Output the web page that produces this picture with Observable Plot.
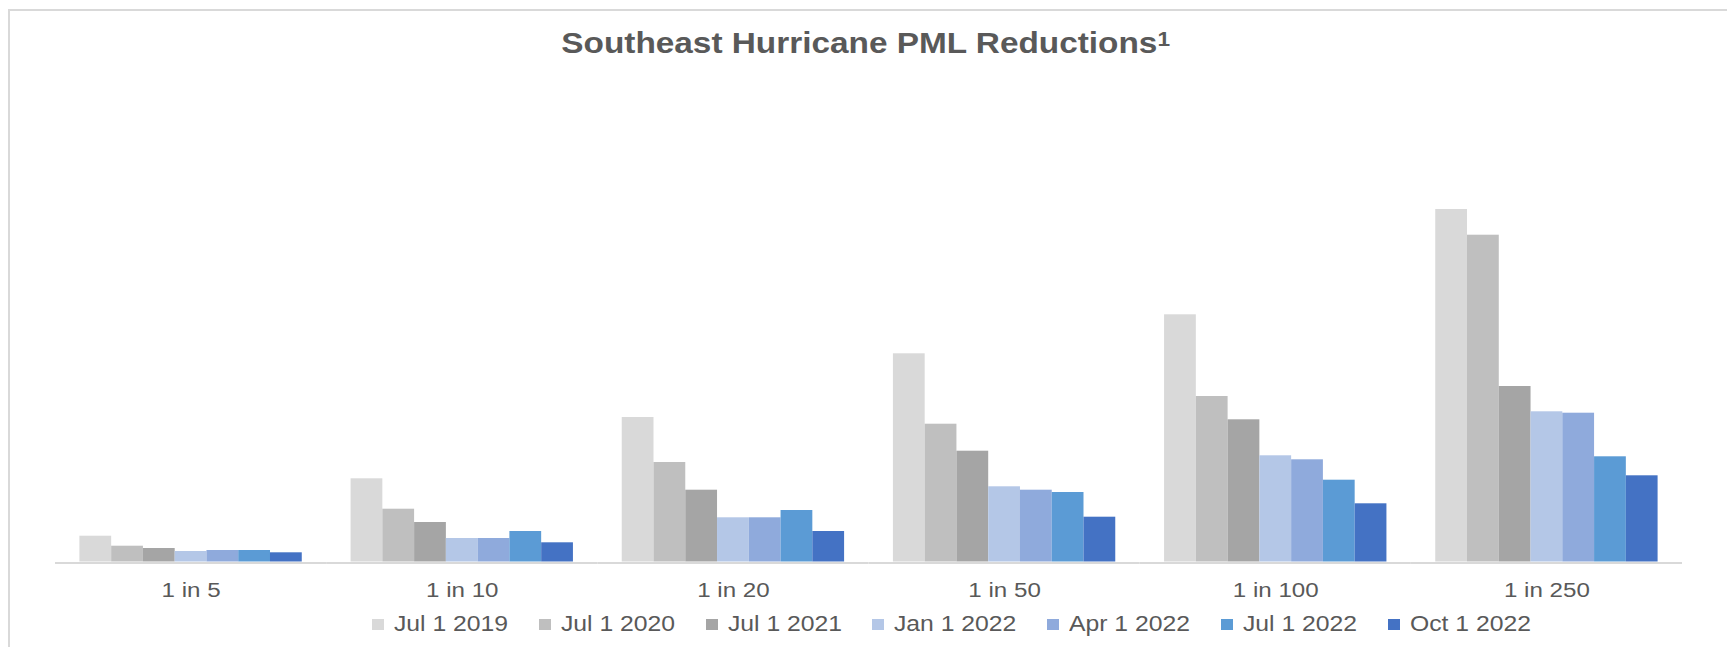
<!DOCTYPE html>
<html>
<head>
<meta charset="utf-8">
<script src="https://cdn.jsdelivr.net/npm/d3@7"></script>
<script src="https://cdn.jsdelivr.net/npm/@observablehq/plot@0.6"></script>
<style>
  html, body { margin: 0; padding: 0; background: #ffffff; overflow: hidden; }
  body { width: 1727px; height: 647px; position: relative;
         font-family: "Liberation Sans", Arial, sans-serif; color: #595959; }
  #frame {
    position: absolute; left: 7.5px; top: 9px; width: 1717.5px; height: 636px;
    border-left: 2px solid #d9d9d9; border-top: 2px solid #d9d9d9;
  }
  #title {
    position: absolute; left: 0; top: 29px; width: 1727px; padding-left: 5px;
    box-sizing: border-box; text-align: center;
    font-weight: bold; font-size: 29px; line-height: 29px; white-space: nowrap;
  }
  #title span { display: inline-block; transform: scaleX(1.15); transform-origin: 50% 50%; }
  #title sup { font-size: 0.68em; line-height: 0; vertical-align: 7px; }
  #chart { position: absolute; left: 0; top: 70px; width: 1727px; overflow: hidden; }
  #legend {
    position: absolute; left: 372px; top: 614px; display: flex; align-items: center;
    font-size: 21.5px; line-height: 21px; white-space: nowrap;
  }
  .item { display: flex; align-items: center; }
  .swatch { display: inline-block; width: 12px; height: 11px; margin-right: 10px; }
  .label { display: inline-block; transform: scaleX(1.15); transform-origin: 0 50%; }
</style>
</head>
<body>
<div id="frame"></div>
<div id="title"><span>Southeast Hurricane PML Reductions<sup>1</sup></span></div>
<div id="chart"></div>
<div id="legend"></div>
<script>
// Return periods along the category axis
const returnPeriods = ["1 in 5", "1 in 10", "1 in 20", "1 in 50", "1 in 100", "1 in 250"];
// As-of dates, one bar per date in each group
const seriesNames = ["Jul 1 2019", "Jul 1 2020", "Jul 1 2021", "Jan 1 2022", "Apr 1 2022", "Jul 1 2022", "Oct 1 2022"];
const seriesColors = ["#d9d9d9", "#bfbfbf", "#a5a5a5", "#b4c7e7", "#8faadc", "#5b9bd5", "#4472c4"];

// PML by return period for each as-of date
const jul2019 = [25.8, 83.2, 144.5, 208.2, 247.2, 352.5];
const jul2020 = [15.8, 52.8, 99.5, 137.8, 165.5, 326.8];
const jul2021 = [13.5, 39.5, 71.8, 110.8, 142.2, 175.5];
const jan2022 = [10.5, 23.5, 44.2, 75.2, 106.2, 150.2];
const apr2022 = [11.5, 23.5, 44.2, 71.8, 102.2, 148.8];
const jul2022 = [11.5, 30.5, 51.5, 69.5, 81.8, 105.2];
const oct2022 = [9.2, 19.2, 30.5, 44.8, 58.2, 86.2];

const seriesValues = [jul2019, jul2020, jul2021, jan2022, apr2022, jul2022, oct2022];

// Long-format table for the grouped bars
const rows = [];
seriesNames.forEach((series, i) => {
  returnPeriods.forEach((period, j) => {
    rows.push({period, series, value: seriesValues[i][j]});
  });
});

// Text is set in a slightly widened face
const textStretch = 1.15;

const W = 1727;
const marginLeft = 55;
const marginRight = 45;
const padInner = 0.18, padOuter = 0.09;
const step = (W - marginLeft - marginRight) / (returnPeriods.length - padInner + 2 * padOuter);
// The baseline rule in each group reaches halfway into the gaps, so it reads as one line
const ruleExtend = step * padInner / 2;

const chart = Plot.plot({
  width: W,
  height: 535,
  marginTop: 91.5,
  marginBottom: 43.5,
  marginLeft,
  marginRight,
  style: {
    fontFamily: "'Liberation Sans', Arial, sans-serif",
    fontSize: "21px",
    color: "#595959",
    background: "transparent"
  },
  fx: {
    domain: returnPeriods,
    paddingInner: padInner,
    paddingOuter: padOuter,
    round: false,
    axis: "bottom",
    tickSize: 0,
    tickPadding: 20,
    label: null
  },
  x: {domain: seriesNames, padding: 0, round: false, axis: null},
  y: {domain: [0, 400], axis: null},
  color: {domain: seriesNames, range: seriesColors},
  marks: [
    Plot.barY(rows, {fx: "period", x: "series", y: "value", fill: "series"}),
    Plot.ruleY([0], {stroke: "#d9d9d9", strokeWidth: 2, dy: 1, insetLeft: -ruleExtend, insetRight: -ruleExtend})
  ]
});
document.getElementById("chart").appendChild(chart);

// Widen the category labels about their anchor points
chart.querySelectorAll("text").forEach((t) => {
  const tr = t.getAttribute("transform") || "";
  t.setAttribute("transform", `${tr} scale(${textStretch},1)`.trim());
});

// Legend below the axis
const legend = document.getElementById("legend");
const labels = [];
seriesNames.forEach((name, i) => {
  const item = document.createElement("span");
  item.className = "item";
  const sw = document.createElement("span");
  sw.className = "swatch";
  sw.style.background = seriesColors[i];
  const lab = document.createElement("span");
  lab.className = "label";
  lab.textContent = name;
  item.appendChild(sw);
  item.appendChild(lab);
  legend.appendChild(item);
  labels.push(lab);
});
// Reserve the widened width of each label plus the gap to the next entry
labels.forEach((lab, i) => {
  const extra = lab.offsetWidth * (textStretch - 1);
  lab.style.marginRight = (extra + (i < labels.length - 1 ? 30.7 : 0)) + "px";
});
</script>
</body>
</html>
